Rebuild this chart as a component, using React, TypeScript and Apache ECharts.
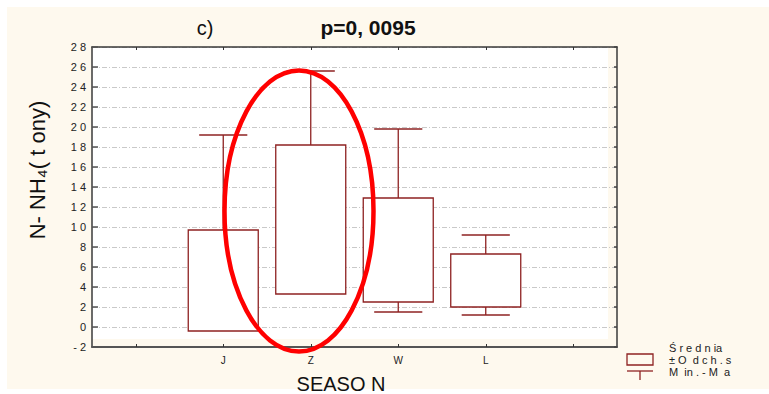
import React, { useEffect, useRef } from "react";
import * as echarts from "echarts";

// ---- data ----
const axisCategories = ["", "J", "Z", "W", "L", ""];
const seasons = ["J", "Z", "W", "L"];
const meanMinusSd = [-0.4, 3.3, 2.5, 2.0];
const meanPlusSd = [9.7, 18.2, 12.9, 7.3];
const maxValues = [19.2, 25.6, 19.8, 9.2];
const minValues: (number | null)[] = [null, null, 1.5, 1.2];
const yTickLabels = [
  "- 2", "0", "2", "4", "6", "8", "1 0", "1 2", "1 4", "1 6",
  "1 8", "2 0", "2 2", "2 4", "2 6", "2 8",
];
const yMin = -2;
const yMax = 28;
const yStep = 2;
const titleLeft = "c)";
const titleRight = "p=0, 0095";
const yName = "N- NH\u2084( t ony)";
const xName = "SEASO N";
const legendTexts = ["\u015a r e d n ia", "\u00b1 O  d c h . s", "M  in . - M  a"];

const FONT = "'Liberation Sans', Arial, sans-serif";
const BOX = "#8e2222";
const CREAM = "#fef9ee";

export default function App() {
  const ref = useRef<HTMLDivElement>(null);
  useEffect(() => {
    if (!ref.current) return;
    const chart = echarts.init(ref.current, undefined, { renderer: "svg" });
    const data = seasons.map((s, i) => [axisCategories.indexOf(s), meanMinusSd[i], meanPlusSd[i], maxValues[i]]);
    const axisLineStyle = { color: "#3a3a3a", width: 1.5 };
    const option: any = {
      animation: false,
      backgroundColor: "transparent",
      grid: { left: 92, top: 47, right: 152, bottom: 47, containLabel: false },
      xAxis: [
        {
          type: "category",
          data: axisCategories,
          position: "bottom",
          boundaryGap: true,
          axisLine: { show: true, onZero: false, lineStyle: { color: "#555", width: 2 } },
          axisTick: { show: true, inside: true, alignWithLabel: true, length: 3, interval: 0, lineStyle: { color: "#333" } },
          axisLabel: { interval: 0, margin: 8, fontSize: 10, color: "#222", fontFamily: FONT },
          splitLine: { show: false },
        },
        {
          type: "category",
          data: axisCategories,
          position: "top",
          boundaryGap: true,
          axisLine: { show: true, onZero: false, lineStyle: axisLineStyle },
          axisTick: { show: true, inside: true, alignWithLabel: true, length: 3, interval: 0, lineStyle: { color: "#333" } },
          axisLabel: { show: false },
          splitLine: { show: false },
        },
      ],
      yAxis: [
        {
          type: "value",
          min: yMin,
          max: yMax,
          interval: yStep,
          position: "left",
          axisLine: { show: true, onZero: false, lineStyle: axisLineStyle },
          axisTick: { show: true, inside: true, length: 6, lineStyle: { color: "#555", width: 1.5 } },
          axisLabel: {
            margin: 6,
            fontSize: 11,
            color: "#222",
            fontFamily: FONT,
            formatter: (v: number) => yTickLabels[Math.round((v - yMin) / yStep)] ?? "",
          },
          splitLine: { show: true, lineStyle: { color: "#c9c9c9", width: 1, type: [5, 2, 1, 2] } },
        },
        {
          type: "value",
          min: yMin,
          max: yMax,
          interval: yStep,
          position: "right",
          axisLine: { show: true, onZero: false, lineStyle: axisLineStyle },
          axisTick: { show: true, inside: true, length: 3, lineStyle: { color: "#444", width: 1.5 } },
          axisLabel: { show: false },
          splitLine: { show: false },
        },
      ],
      series: [
        {
          type: "custom",
          xAxisIndex: 0,
          yAxisIndex: 0,
          z: 5,
          data,
          renderItem: (params: any, api: any) => {
            const i = params.dataIndex;
            const x = api.value(0);
            const band = api.size([1, 0])[0];
            const bw = band * 0.8;
            const cw = band * 0.55;
            const top = api.coord([x, meanPlusSd[i]]);
            const bot = api.coord([x, meanMinusSd[i]]);
            const mx = api.coord([x, maxValues[i]]);
            const stroke = { stroke: BOX, lineWidth: 1.3 };
            const children: any[] = [
              { type: "line", shape: { x1: top[0], y1: top[1], x2: mx[0], y2: mx[1] }, style: { ...stroke } },
              { type: "line", shape: { x1: mx[0] - cw / 2, y1: mx[1], x2: mx[0] + cw / 2, y2: mx[1] }, style: { ...stroke } },
            ];
            const mn = minValues[i];
            if (mn !== null) {
              const mp = api.coord([x, mn]);
              children.push(
                { type: "line", shape: { x1: bot[0], y1: bot[1], x2: mp[0], y2: mp[1] }, style: { ...stroke } },
                { type: "line", shape: { x1: mp[0] - cw / 2, y1: mp[1], x2: mp[0] + cw / 2, y2: mp[1] }, style: { ...stroke } }
              );
            }
            children.push({
              type: "rect",
              shape: { x: top[0] - bw / 2, y: top[1], width: bw, height: bot[1] - top[1] },
              style: { fill: "#ffffff", ...stroke },
            });
            return { type: "group", children };
          },
        },
      ],
      graphic: {
        elements: [
          { type: "rect", z: -20, silent: true, shape: { x: 7, y: 7, width: 762, height: 382 }, style: { fill: CREAM } },
          { type: "rect", z: -10, silent: true, shape: { x: 92, y: 47, width: 516, height: 292 }, style: { fill: "#ffffff" } },
          {
            type: "ellipse",
            z: 100,
            silent: true,
            shape: { cx: 299, cy: 211, rx: 74.5, ry: 140.5 },
            style: { fill: "none", stroke: "#ff0000", lineWidth: 4.5 },
          },
          {
            type: "text",
            x: 205,
            y: 28,
            style: { text: titleLeft, font: `20px ${FONT}`, fill: "#111", align: "center", verticalAlign: "middle" },
          },
          {
            type: "text",
            x: 368,
            y: 27,
            style: { text: titleRight, font: `bold 21px ${FONT}`, fill: "#111", align: "center", verticalAlign: "middle" },
          },
          {
            type: "text",
            x: 37,
            y: 170,
            rotation: Math.PI / 2,
            style: { text: yName, font: `22px ${FONT}`, fill: "#111", align: "center", verticalAlign: "middle" },
          },
          {
            type: "text",
            x: 341,
            y: 384,
            style: { text: xName, font: `20px ${FONT}`, fill: "#111", align: "center", verticalAlign: "middle" },
          },
          { type: "rect", shape: { x: 627, y: 354, width: 26, height: 11 }, style: { fill: "none", stroke: BOX, lineWidth: 1.3 } },
          { type: "line", shape: { x1: 627, y1: 371, x2: 653, y2: 371 }, style: { stroke: BOX, lineWidth: 1.3 } },
          { type: "line", shape: { x1: 640, y1: 371, x2: 640, y2: 380 }, style: { stroke: BOX, lineWidth: 1.3 } },
          ...legendTexts.map((t, k) => ({
            type: "text",
            x: 669,
            y: 348 + k * 12,
            style: { text: t, font: `11px ${FONT}`, fill: "#222", align: "left", verticalAlign: "middle" },
          })),
        ],
      },
    };
    chart.setOption(option);
    return () => chart.dispose();
  }, []);
  return (
    <div
      ref={ref}
      style={{ position: "absolute", left: 0, top: 0, width: 769, height: 394, overflow: "hidden" }}
    />
  );
}
